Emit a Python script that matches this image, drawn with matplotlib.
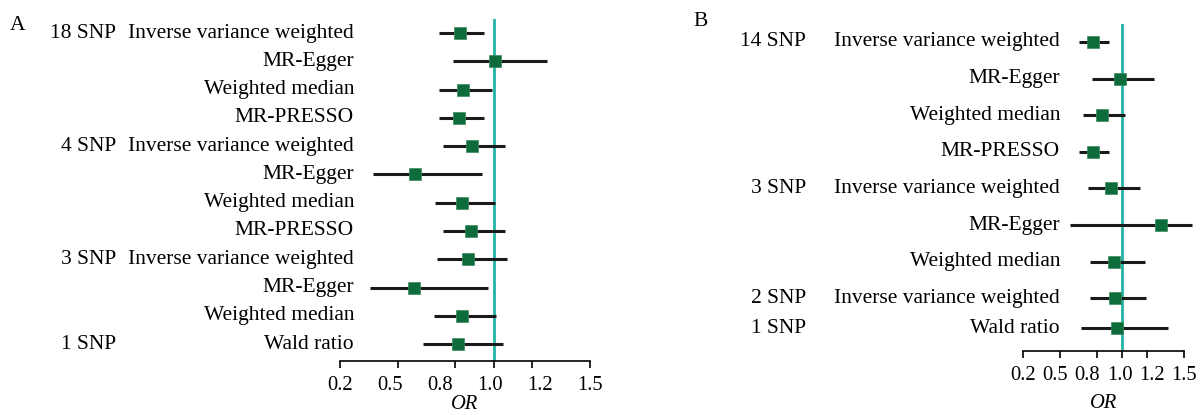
import numpy as np
import matplotlib.pyplot as plt
import matplotlib.transforms as mtransforms

plt.rcParams['font.family'] = ['Liberation Serif', 'DejaVu Serif']

# panel A: exposure -> outcome
snp_a = ["18 SNP", "", "", "", "4 SNP", "", "", "", "3 SNP", "", "", "1 SNP"]
method_a = ["Inverse variance weighted", "MR-Egger", "Weighted median", "MR-PRESSO",
            "Inverse variance weighted", "MR-Egger", "Weighted median", "MR-PRESSO",
            "Inverse variance weighted", "MR-Egger", "Weighted median", "Wald ratio"]
or_a = [0.824, 1.008, 0.840, 0.820, 0.884, 0.590, 0.836, 0.880, 0.864, 0.584, 0.834, 0.816]
lo_a = [0.714, 0.788, 0.714, 0.714, 0.734, 0.374, 0.694, 0.734, 0.704, 0.354, 0.690, 0.634]
hi_a = [0.948, 1.278, 0.988, 0.948, 1.058, 0.940, 1.008, 1.058, 1.070, 0.968, 1.010, 1.050]

# panel B
snp_b = ["14 SNP", "", "", "", "3 SNP", "", "", "2 SNP", "1 SNP"]
method_b = ["Inverse variance weighted", "MR-Egger", "Weighted median", "MR-PRESSO",
            "Inverse variance weighted", "MR-Egger", "Weighted median",
            "Inverse variance weighted", "Wald ratio"]
or_b = [0.765, 0.981, 0.841, 0.765, 0.908, 1.317, 0.935, 0.940, 0.962]
lo_b = [0.652, 0.760, 0.685, 0.652, 0.725, 0.582, 0.738, 0.738, 0.666]
hi_b = [0.895, 1.258, 1.021, 0.895, 1.148, 1.568, 1.183, 1.190, 1.371]

xticks = [0.2, 0.5, 0.8, 1.0, 1.2, 1.5]
xticklabels = ["0.2", "0.5", "0.8", "1.0", "1.2", "1.5"]

W, H = 1201, 415
fig = plt.figure(figsize=(W / 100, H / 100), dpi=100)

green = "#0d6b3c"
teal = "#22b3a3"
fs = 15.5
tfs = 14.8


def px(x0, y0, x1, y1):
    # pixel box -> figure fraction [left, bottom, width, height]
    return [x0 / W, 1 - y1 / H, (x1 - x0) / W, (y1 - y0) / H]


def forest(ax, ypos, ors, los, his, snps, methods, snp_x, meth_x, ylim, lpad):
    ax.axvline(1.0, color=teal, lw=2.0, zorder=1)
    for y, o, l, h in zip(ypos, ors, los, his):
        ax.plot([l, h], [y, y], color="#1a1a1a", lw=2.2, solid_capstyle="butt",
                clip_on=False, zorder=2)
        ax.plot(o, y, marker="s", ms=8.8, color=green, mec="#3a8a5c", mew=0.5,
                clip_on=False, zorder=3)
    ax.set_xlim(0.2, 1.5)
    ax.set_ylim(*ylim)
    ax.set_yticks([])
    for s in ["top", "right", "left"]:
        ax.spines[s].set_visible(False)
    ax.spines["bottom"].set_linewidth(1.2)
    # ticks sit at the true values, labels are spread evenly (as in the source figure)
    ax.xaxis.remove_overlapping_locs = False
    ax.set_xticks(xticks, labels=[""] * len(xticks))
    ax.set_xticks(np.linspace(0.2, 1.5, len(xticks)), labels=xticklabels, minor=True)
    ax.tick_params(axis="x", which="major", length=5, width=1.2)
    ax.tick_params(axis="x", which="minor", length=0, labelsize=tfs, pad=11)
    ax.set_xlabel("OR", fontsize=tfs, style="italic", labelpad=lpad)
    tr = mtransforms.blended_transform_factory(fig.transFigure, ax.transData)
    for y, s, m in zip(ypos, snps, methods):
        if s:
            fig.text(snp_x / W, y, s, transform=tr, ha="right", va="center", fontsize=fs)
        fig.text(meth_x / W, y, m, transform=tr, ha="right", va="center", fontsize=fs)


ax_a = fig.add_axes(px(340, 19, 590, 361))
ya = np.arange(len(or_a))
forest(ax_a, ya, or_a, lo_a, hi_a, snp_a, method_a, 116, 354, (11.6, -0.5), 0)

ax_b = fig.add_axes(px(1023, 24, 1184, 351))
yb = np.r_[np.arange(len(or_b) - 1), len(or_b) - 2 + 0.82]
forest(ax_b, yb, or_b, lo_b, hi_b, snp_b, method_b, 806, 1060, (8.44, -0.49), 6)

fig.text(10 / W, 1 - 25 / H, "A", fontsize=fs, va="center")
fig.text(693 / W, 1 - 22 / H, "B", fontsize=fs, va="center")

fig.savefig("out.png", dpi=100)
